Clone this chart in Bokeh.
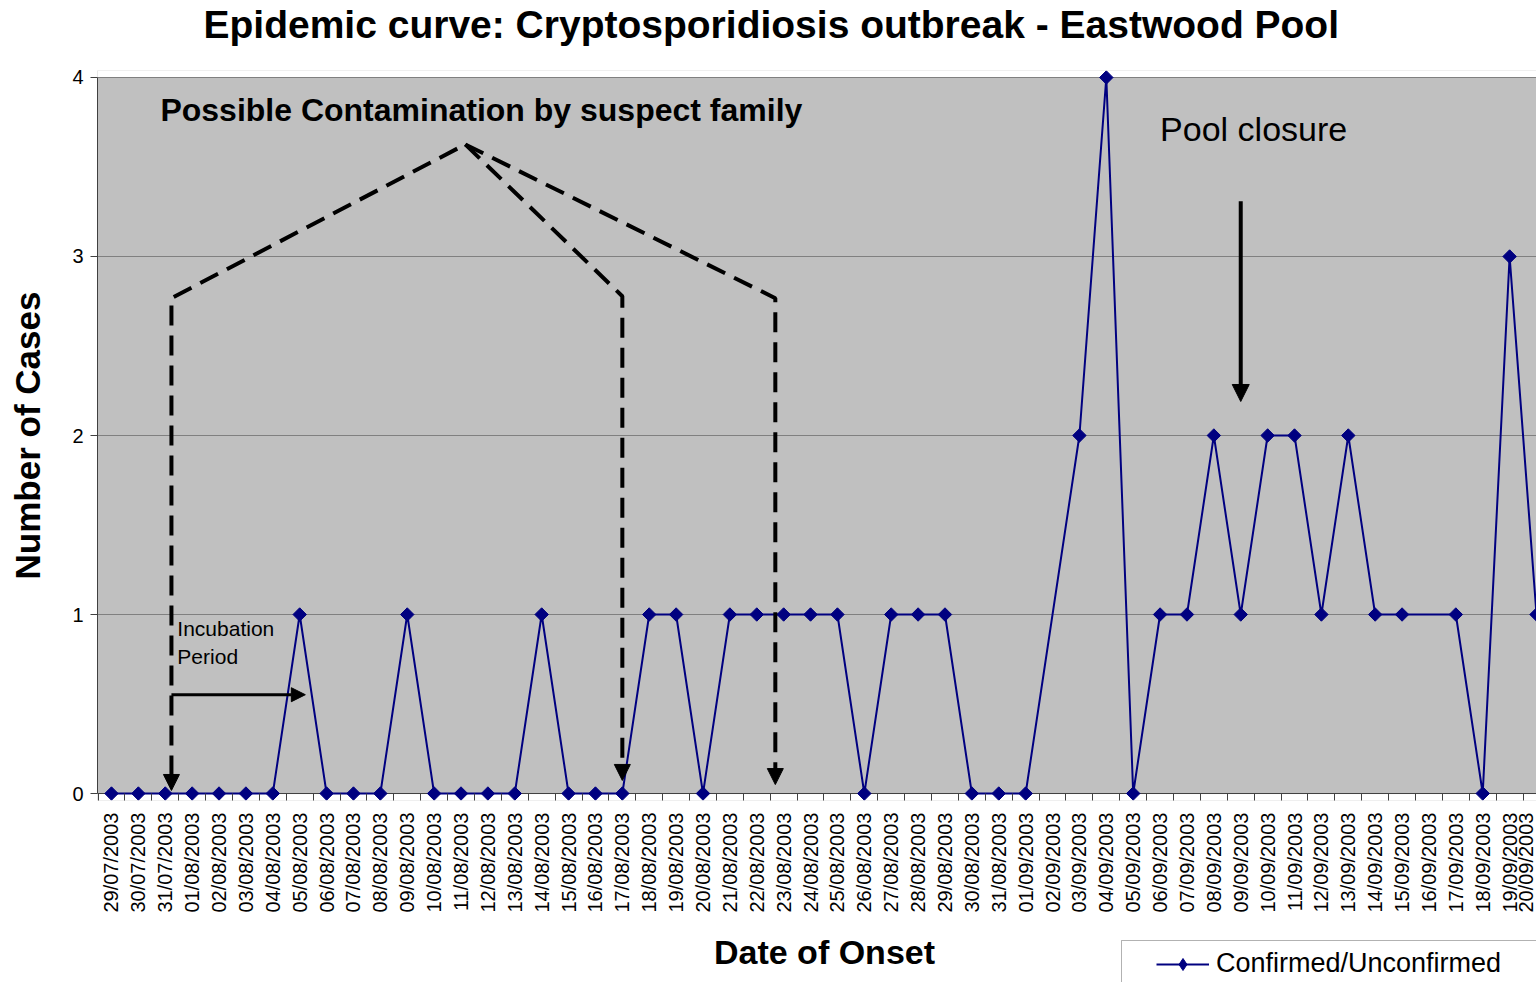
import numpy as np
from bokeh.plotting import figure
from bokeh.layouts import column
from bokeh.models import (FixedTicker, Range1d, BoxAnnotation, Span, Arrow, NormalHead,
                          ColumnDataSource, Legend, LegendItem, Label, Title)
from bokeh.embed import file_html
from bokeh.resources import INLINE

# ---------------- data ----------------
dates = [
    "29/07/2003", "30/07/2003", "31/07/2003", "01/08/2003", "02/08/2003", "03/08/2003",
    "04/08/2003", "05/08/2003", "06/08/2003", "07/08/2003", "08/08/2003", "09/08/2003",
    "10/08/2003", "11/08/2003", "12/08/2003", "13/08/2003", "14/08/2003", "15/08/2003",
    "16/08/2003", "17/08/2003", "18/08/2003", "19/08/2003", "20/08/2003", "21/08/2003",
    "22/08/2003", "23/08/2003", "24/08/2003", "25/08/2003", "26/08/2003", "27/08/2003",
    "28/08/2003", "29/08/2003", "30/08/2003", "31/08/2003", "01/09/2003", "02/09/2003",
    "03/09/2003", "04/09/2003", "05/09/2003", "06/09/2003", "07/09/2003", "08/09/2003",
    "09/09/2003", "10/09/2003", "11/09/2003", "12/09/2003", "13/09/2003", "14/09/2003",
    "15/09/2003", "16/09/2003", "17/09/2003", "18/09/2003", "19/09/2003", "20/09/2003",
]
cases = [
    0, 0, 0, 0, 0, 0,
    0, 1, 0, 0, 0, 1,
    0, 0, 0, 0, 1, 0,
    0, 0, 1, 1, 0, 1,
    1, 1, 1, 1, 0, 1,
    1, 1, 0, 0, 0, None,
    2, 4, 0, 1, 1, 2,
    1, 2, 2, 1, 2, 1,
    1, None, 1, 0, 3, 1,
]
y_ticks = [0, 1, 2, 3, 4]
series_name = "Confirmed/Unconfirmed"
title_text = "Epidemic curve:  Cryptosporidiosis outbreak - Eastwood Pool"
x_title = "Date of Onset"
y_title = "Number of Cases"

FONT = "Liberation Sans"
NAVY = "#000080"
AXIS = "#404040"

idx = list(range(len(dates)))
x_valid = [i for i, v in zip(idx, cases) if v is not None]
y_valid = [v for v in cases if v is not None]
src = ColumnDataSource(dict(x=x_valid, y=y_valid))

# ---------------- main chart ----------------
p = figure(width=1536, height=926, output_backend="svg", toolbar_location=None,
           x_range=Range1d(-0.52, 53.0), y_range=Range1d(-0.039, 4.039),
           min_border_left=97, min_border_right=0, min_border_top=69, min_border_bottom=126)

p.background_fill_color = "#C0C0C0"
p.border_fill_color = "white"
p.outline_line_color = None

p.title.text = title_text
p.title.text_font = FONT
p.title.text_font_size = "39px"
p.title.text_font_style = "bold"
p.title.align = "left"
p.title.offset = 106
p.title.standoff = 0
p.title.text_color = "black"
# blank spacer between the title and the plot area
p.above = [Title(text=" ", text_font_size="10px", standoff=12)]

# white strips outside 0..4 so the grey plot area ends at the axes
top_strip = BoxAnnotation(bottom=4, top=5, fill_color="white", fill_alpha=1,
                          line_color=None, level="underlay")
bot_strip = BoxAnnotation(bottom=-1, top=0, fill_color="white", fill_alpha=1,
                          line_color=None, level="underlay")
axis_line = Span(location=0, dimension="width", line_color=AXIS, line_width=1,
                 level="underlay")
p.center = [top_strip, bot_strip] + list(p.center) + [axis_line]

p.xgrid.visible = False
p.ygrid.grid_line_color = "#808080"
p.ygrid.grid_line_width = 1

# x axis: labels at category centres, ticks between categories
xax = p.xaxis[0]
xax.ticker = FixedTicker(ticks=idx, minor_ticks=[i - 0.5 for i in range(len(dates) + 1)])
xax.major_label_overrides = {i: d for i, d in enumerate(dates)}
xax.major_label_orientation = np.pi / 2
xax.axis_line_color = None
xax.major_tick_line_color = None
xax.major_tick_out = 0
xax.major_tick_in = 0
xax.minor_tick_line_color = AXIS
xax.minor_tick_out = 0
xax.minor_tick_in = 7
xax.major_label_standoff = 12
xax.major_label_text_font = FONT
xax.major_label_text_font_size = "20px"
xax.major_label_text_color = "black"

# y axis
yax = p.yaxis[0]
yax.ticker = FixedTicker(ticks=y_ticks)
yax.bounds = (0, 4)
yax.axis_line_color = AXIS
yax.major_tick_line_color = AXIS
yax.major_tick_out = 7
yax.major_tick_in = 0
yax.minor_tick_line_color = None
yax.major_label_standoff = 7
yax.major_label_text_font = FONT
yax.major_label_text_font_size = "20px"
yax.major_label_text_color = "black"
yax.axis_label = y_title
yax.axis_label_text_font = FONT
yax.axis_label_text_font_size = "35px"
yax.axis_label_text_font_style = "bold"
yax.axis_label_text_color = "black"
yax.axis_label_standoff = 22

# series
ln = p.line("x", "y", source=src, line_color=NAVY, line_width=2)
sc = p.scatter("x", "y", source=src, marker="square", size=9.5, angle=np.pi / 4,
               fill_color=NAVY, line_color=NAVY)

# dashed "possible contamination" lines
dash_x = [[2.23, 2.23, 13.16], [13.16, 19.0, 19.0], [13.16, 24.69, 24.69]]
dash_y = [[0.10, 2.767, 3.626], [3.626, 2.778, 0.15], [3.626, 2.767, 0.13]]
p.multi_line(dash_x, dash_y, line_color="black", line_width=4, line_dash="20 10")

for xh, yt in [(2.23, 0.017), (19.0, 0.073), (24.69, 0.05)]:
    p.add_layout(Arrow(end=NormalHead(size=16, fill_color="black", line_color="black"),
                       x_start=xh, y_start=yt + 0.2, x_end=xh, y_end=yt,
                       line_alpha=0))

p.add_layout(Arrow(end=NormalHead(size=14, fill_color="black", line_color="black"),
                   x_start=2.23, y_start=0.552, x_end=7.21, y_end=0.552,
                   line_color="black", line_width=3))
p.add_layout(Arrow(end=NormalHead(size=17, fill_color="black", line_color="black"),
                   x_start=42, y_start=3.308, x_end=42, y_end=2.19,
                   line_color="black", line_width=4))

p.add_layout(Label(x=1.82, y=3.816, text="Possible Contamination by suspect family",
                   text_font=FONT, text_font_size="32px", text_font_style="bold",
                   text_baseline="middle", text_align="left", text_color="black"))
p.add_layout(Label(x=39.0, y=3.71, text="Pool closure",
                   text_font=FONT, text_font_size="34px",
                   text_baseline="middle", text_align="left", text_color="black"))
p.add_layout(Label(x=2.45, y=0.92, text="Incubation",
                   text_font=FONT, text_font_size="21px",
                   text_baseline="middle", text_align="left", text_color="black"))
p.add_layout(Label(x=2.45, y=0.764, text="Period",
                   text_font=FONT, text_font_size="21px",
                   text_baseline="middle", text_align="left", text_color="black"))

# ---------------- bottom strip: x-axis title and legend ----------------
# plot area aligned with the main one: x in page pixels 97..1536, y = 982 - page y
foot = figure(width=1536, height=56, output_backend="svg", toolbar_location=None,
              x_range=Range1d(97, 1536), y_range=Range1d(0, 56),
              x_axis_type=None, y_axis_type=None, min_border=0)
foot.outline_line_color = None
foot.background_fill_color = "white"
foot.border_fill_color = "white"

# legend frame (runs off the right and bottom edges, as in the original)
foot.add_layout(BoxAnnotation(left=1121, right=1700, bottom=-20, top=42,
                              fill_color="white", fill_alpha=1,
                              line_color="black", line_width=1, level="underlay"))

# legend proxies share the series source; its points lie outside this strip's ranges
ln2 = foot.line("x", "y", source=src, line_color=NAVY, line_width=2)
sc2 = foot.scatter("x", "y", source=src, marker="diamond", size=12,
                   fill_color=NAVY, line_color=NAVY)
legend = Legend(items=[LegendItem(label=series_name, renderers=[ln2, sc2])],
                location=(1059, 3), orientation="vertical",
                label_text_font=FONT, label_text_font_size="27px", label_text_color="black",
                glyph_width=53, glyph_height=30, label_standoff=7, padding=8, spacing=0,
                margin=0, border_line_color=None, background_fill_alpha=0)
foot.add_layout(legend)

foot.add_layout(Label(x=824, y=31, text=x_title, text_font=FONT, text_font_size="34px",
                      text_font_style="bold", text_align="center", text_baseline="middle",
                      text_color="black"))

layout = column(p, foot, spacing=0)
open("out.html", "w").write(file_html(layout, INLINE))
